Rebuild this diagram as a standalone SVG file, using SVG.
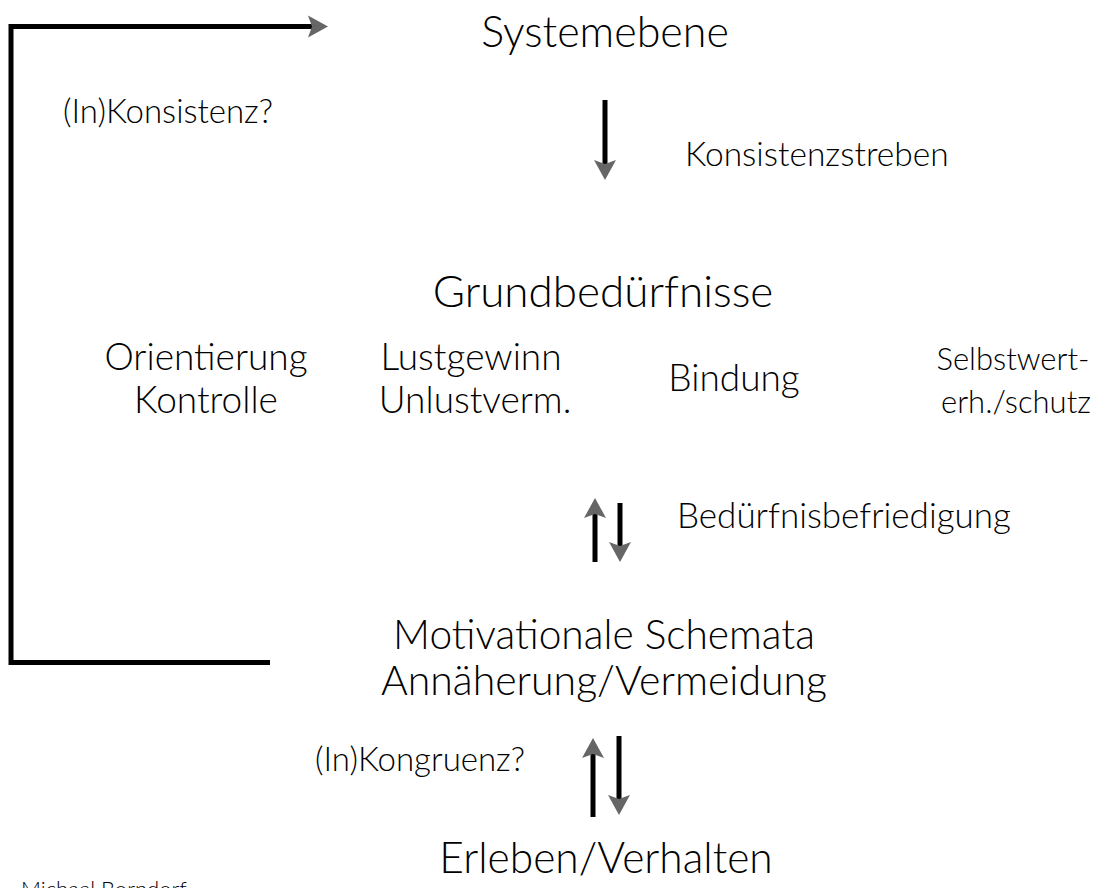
<svg xmlns="http://www.w3.org/2000/svg" width="1098" height="888" viewBox="0 0 1098 888">
<style>
text { font-family: "Lato", "Open Sans", "Liberation Sans", sans-serif; font-weight: 300; fill: #000; }
.big { font-size: 42px; text-anchor: middle; }
.mid { font-size: 37px; text-anchor: middle; }
.lbl { font-size: 33px; }
.con { fill: none; stroke: #000; stroke-width: 5; }
</style>
<defs>
<marker id="ah" markerUnits="userSpaceOnUse" markerWidth="24" markerHeight="24" viewBox="0 -12 24 24" refX="4" refY="0" orient="auto">
<path d="M0,-11 L20,0 L0,11 L4,0 Z" fill="#666"/>
</marker>
</defs>
<rect width="1098" height="888" fill="#fff"/>
<g id="connectors">
<path class="con" d="M270,662.5 H11 V26.5 H312" marker-end="url(#ah)"/>
<line class="con" x1="605" y1="100" x2="605" y2="164" marker-end="url(#ah)"/>
<line class="con" x1="595" y1="562" x2="595" y2="514" marker-end="url(#ah)"/>
<line class="con" x1="620" y1="503" x2="620" y2="546" marker-end="url(#ah)"/>
<line class="con" x1="593" y1="817" x2="593" y2="754" marker-end="url(#ah)"/>
<line class="con" x1="619" y1="736" x2="619" y2="799" marker-end="url(#ah)"/>
</g>
<g id="systemebene"><text class="big" x="605" y="47" style="font-size:43px">Systemebene</text></g>
<g id="konsistenz"><text class="lbl" x="63" y="123">(In)Konsistenz?</text></g>
<g id="konsistenzstreben"><text class="lbl" x="685" y="166" style="font-size:33.5px">Konsistenzstreben</text></g>
<g id="grundbeduerfnisse"><text class="big" x="603" y="307" style="font-size:44px">Grundbedürfnisse</text></g>
<g id="orientierung"><text class="mid" x="206" y="370">Orientierung</text><text class="mid" x="206" y="413">Kontrolle</text></g>
<g id="lustgewinn"><text class="mid" x="471" y="370">Lustgewinn</text><text class="mid" x="475" y="413">Unlustverm.</text></g>
<g id="bindung"><text class="mid" x="734" y="391">Bindung</text></g>
<g id="selbstwert"><text class="mid" x="1013" y="370" style="font-size:31px">Selbstwert-</text><text class="mid" x="1016" y="413" style="font-size:31px">erh./schutz</text></g>
<g id="befriedigung"><text class="lbl" x="677" y="528" style="font-size:35px">Bedürfnisbefriedigung</text></g>
<g id="schemata"><text class="big" x="604" y="649" style="font-size:40.7px">Motivationale Schemata</text><text class="big" x="604" y="695" style="font-size:41px">Annäherung/Vermeidung</text></g>
<g id="kongruenz"><text class="lbl" x="315" y="771">(In)Kongruenz?</text></g>
<g id="erleben"><text class="big" x="606" y="873" style="font-size:42.5px">Erleben/Verhalten</text></g>
<g id="author"><text class="lbl" x="21" y="897" style="font-size:22px">Michael Borndorf</text></g>
</svg>
